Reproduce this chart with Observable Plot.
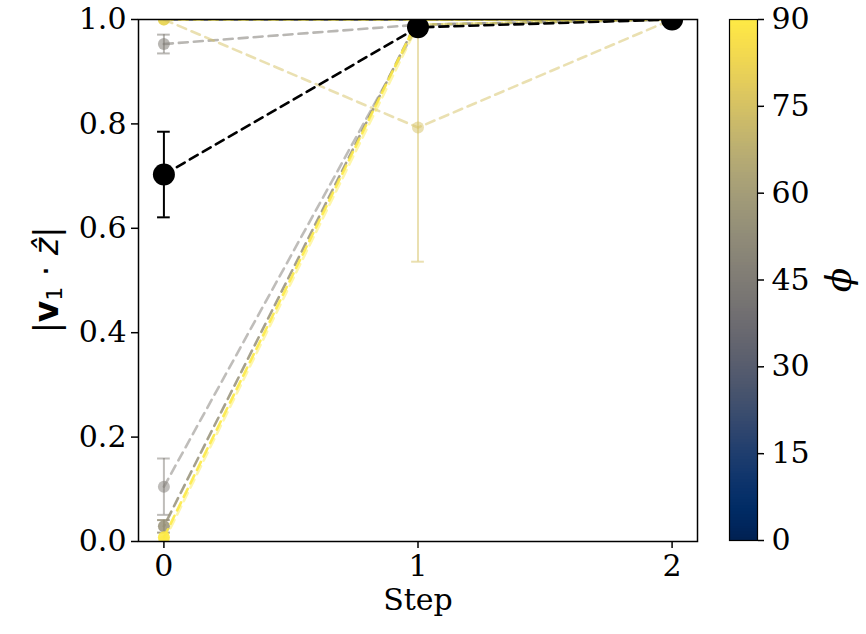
<!DOCTYPE html>
<html>
<head>
<meta charset="utf-8">
<script src="https://cdn.jsdelivr.net/npm/d3@7"></script>
<script src="https://cdn.jsdelivr.net/npm/@observablehq/plot@0.6"></script>
<style>
  html, body { margin: 0; padding: 0; background: #fff; }
  #wrap { position: relative; width: 866px; height: 634px; }
  #wrap svg { position: absolute; top: 0; font-family: "DejaVu Serif", serif; }
</style>
</head>
<body>
<div id="wrap"></div>
<script>
// Steps along the x axis
const steps = [0, 1, 2];

// Each run: orientation angle phi (deg), mean |v1·z| per step, error per step.
// The black run (no phi) is the mean over all runs and is drawn last.
const runPhi     = [30, 90, 45, 75, 45, 55, 90, 90, null];
const runOpacity = [0.95, 0.9, 0.55, 0.5, 0.5, 0.85, 0.9, 0.45, 1];
const runRadius  = [0, 6, 6, 6, 6, 6, 6, 6, 11];
const runMean = [
  [1.0, 1.0, 1.0],
  [1.0, 1.0, 1.0],
  [0.953, 0.99, 1.0],
  [1.0, 0.793, 1.0],
  [0.105, 0.99, 1.0],
  [0.029, 1.0, 1.0],
  [0.008, 1.0, 1.0],
  [0.0, 0.99, 1.0],
  [0.703, 0.985, 1.0]
];
const runErr = [
  [0, 0, 0],
  [0, 0, 0],
  [0.018, 0, 0],
  [0, 0.257, 0],
  [0.054, 0, 0],
  [0.012, 0, 0],
  [0, 0, 0],
  [0, 0, 0],
  [0.082, 0, 0]
];

// Colour bar ticks
const phiTicks = [0, 15, 30, 45, 60, 75, 90];
const yTicks = [0, 0.2, 0.4, 0.6, 0.8, 1.0];

const colorOf = phi => phi == null ? "#000000" : d3.interpolateCividis(phi / 90);

const marks = [];
runMean.forEach((vals, i) => {
  const color = colorOf(runPhi[i]);
  const rows = steps.map((s, j) => ({step: s, v: vals[j], e: runErr[i][j]}));
  const op = runOpacity[i];
  marks.push(Plot.line(rows, {
    x: "step", y: "v", stroke: color, strokeOpacity: op,
    strokeWidth: 2.6, strokeDasharray: "9,6",
    strokeDashoffset: i === 0 || i === 5 ? 7.5 : 0, clip: true
  }));
  const errs = rows.filter(d => d.e > 0);
  marks.push(Plot.ruleX(errs, {
    x: "step", y1: d => d.v - d.e, y2: d => d.v + d.e,
    stroke: color, strokeOpacity: op, strokeWidth: 2, clip: true
  }));
  for (const sign of [-1, 1]) {
    marks.push(Plot.ruleY(errs, {
      y: d => d.v + sign * d.e, x1: d => d.step - 0.025, x2: d => d.step + 0.025,
      stroke: color, strokeOpacity: op, strokeWidth: 2, clip: true
    }));
  }
  if (runRadius[i] > 0) {
    marks.push(Plot.dot(rows, {
      x: "step", y: "v", r: runRadius[i], fill: color, fillOpacity: op,
      stroke: "none", clip: true
    }));
  }
});

const main = Plot.plot({
  width: 866,
  height: 634,
  marginLeft: 138,
  marginRight: 169,
  marginTop: 19,
  marginBottom: 93,
  style: {fontFamily: "DejaVu Serif", fontSize: "30px", color: "#000", background: "transparent"},
  x: {domain: [-0.1, 2.1]},
  y: {domain: [0, 1]},
  marks: [
    ...marks,
    Plot.frame({stroke: "#000", strokeWidth: 1.5}),
    Plot.axisY({ticks: yTicks, tickFormat: d3.format(".1f"), tickSize: 7, tickPadding: 5,
      fontSize: 30, label: null, strokeWidth: 1.5}),
    Plot.axisX({ticks: steps, tickFormat: d3.format("d"), tickSize: 7, tickPadding: 6,
      fontSize: 30, label: null, strokeWidth: 1.5}),
    Plot.text(["Step"], {frameAnchor: "bottom", dy: 68, fontSize: 30, text: d => d,
      fontFamily: "DejaVu Serif"})
  ]
});
main.style.left = "0px";

// Rich y-axis label
const yl = d3.select(main).append("text")
  .attr("transform", "translate(48,280) rotate(-90)")
  .attr("text-anchor", "middle")
  .attr("dominant-baseline", "middle")
  .style("font-family", "DejaVu Sans")
  .style("font-size", "33px")
  .attr("fill", "#000");
yl.append("tspan").text("|");
yl.append("tspan").style("font-weight", "bold").text("v");
yl.append("tspan").style("font-size", "22px").attr("dy", 8).text("1");
yl.append("tspan").attr("dy", -8).text(" · ");
yl.append("tspan").style("font-style", "italic").text("ẑ");
yl.append("tspan").text("|");

// Vertical colour bar
const bands = d3.range(0, 90, 0.5).map(p => ({p0: p, p1: p + 0.5}));
const bar = Plot.plot({
  width: 137,
  height: 634,
  marginLeft: 0,
  marginRight: 109,
  marginTop: 19,
  marginBottom: 94,
  style: {fontFamily: "DejaVu Serif", fontSize: "30px", color: "#000", background: "transparent"},
  x: {domain: [0, 1], axis: null},
  y: {domain: [0, 90]},
  marks: [
    Plot.rect(bands, {x1: 0, x2: 1, y1: "p0", y2: "p1", fill: d => d3.interpolateCividis((d.p0 + 0.25) / 90), shapeRendering: "crispEdges"}),
    Plot.frame({stroke: "#000", strokeWidth: 1.2}),
    Plot.axisY({anchor: "right", ticks: phiTicks, tickFormat: d3.format("d"), tickSize: 6,
      tickPadding: 8, fontSize: 30, label: null, strokeWidth: 1.5})
  ]
});
bar.style.left = "729px";
bar.style.overflow = "visible";

d3.select(main).append("text")
  .attr("transform", "translate(842,280) rotate(-90)")
  .attr("text-anchor", "middle")
  .attr("dominant-baseline", "middle")
  .style("font-family", "DejaVu Serif")
  .style("font-style", "italic")
  .style("font-size", "36px")
  .attr("fill", "#000")
  .text("ϕ");

document.getElementById("wrap").append(main, bar);
</script>
</body>
</html>
